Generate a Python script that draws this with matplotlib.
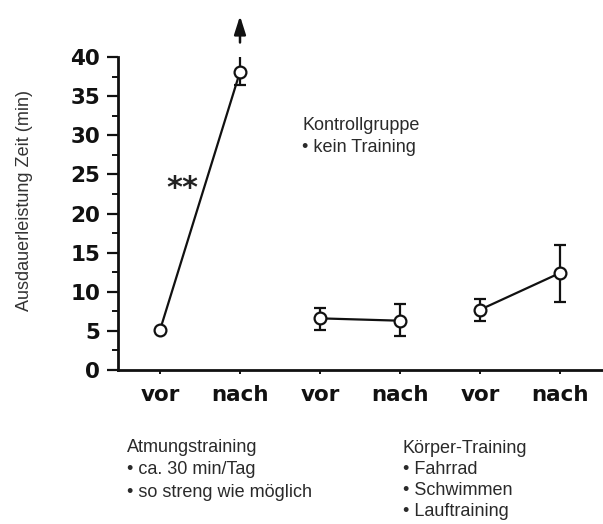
import matplotlib
matplotlib.use("Agg")
import matplotlib.pyplot as plt
from matplotlib.ticker import MultipleLocator, FixedLocator

# ---- data ----
tick_labels = ["vor", "nach", "vor", "nach", "vor", "nach"]
atmung_mean = [5.1, 38.1]
atmung_lo = [5.1, 36.4]
atmung_hi = [5.1, 40.3]
kontroll_mean = [6.6, 6.3]
kontroll_lo = [5.1, 4.3]
kontroll_hi = [7.9, 8.4]
koerper_mean = [7.7, 12.4]
koerper_lo = [6.3, 8.7]
koerper_hi = [9.1, 16.0]
y_ticks = [0, 5, 10, 15, 20, 25, 30, 35, 40]

W, H = 603, 524
fig = plt.figure(figsize=(W / 100, H / 100), dpi=100)
ax = fig.add_axes([118 / W, (H - 370) / H, (W - 118) / W, (370 - 57) / H])

ink = "#111111"
groups = [
    ([0, 1], atmung_mean, atmung_lo, atmung_hi),
    ([2, 3], kontroll_mean, kontroll_lo, kontroll_hi),
    ([4, 5], koerper_mean, koerper_lo, koerper_hi),
]
for i, (xs, m, lo, hi) in enumerate(groups):
    yerr = [[a - b for a, b in zip(m, lo)], [b - a for a, b in zip(m, hi)]]
    ax.errorbar(xs, m, yerr=yerr, fmt="none", ecolor=ink, elinewidth=1.6,
                capsize=4, capthick=1.6, zorder=2)
    ax.plot(xs, m, color=ink, lw=1.6, marker="o", ms=8.5, mfc="white",
            mec=ink, mew=1.6, zorder=3)

# arrow above "nach" of Atmungstraining
ax.annotate("", xy=(1, 45.6), xytext=(1, 41.5), annotation_clip=False,
            arrowprops=dict(arrowstyle="-|>,head_length=1.1,head_width=0.35",
                            color=ink, lw=1.8))
ax.text(0.28, 23.2, "**", ha="center", va="center", fontsize=22,
        fontweight="bold", color="#222222", family="DejaVu Sans")

ax.set_xlim(-0.525, (W - 160) / 80)
ax.set_ylim(0, 40)
ax.spines["top"].set_visible(False)
ax.spines["right"].set_visible(False)
for s in ("left", "bottom"):
    ax.spines[s].set_linewidth(2)
    ax.spines[s].set_color(ink)
ax.spines["bottom"].set_bounds(-0.525, (W - 160) / 80)

ax.yaxis.set_major_locator(FixedLocator(y_ticks))
ax.yaxis.set_minor_locator(MultipleLocator(2.5))
ax.set_yticklabels([str(v) for v in y_ticks])
ax.set_xticks(range(len(tick_labels)))
ax.set_xticklabels(tick_labels)
ax.tick_params(axis="y", which="major", length=8, width=1.6, color=ink,
               pad=5, labelsize=15.5)
ax.tick_params(axis="y", which="minor", length=4, width=1.4, color=ink)
ax.tick_params(axis="x", which="major", length=3, width=1.4, color=ink,
               pad=8, labelsize=15.5)
for lab in ax.get_yticklabels() + ax.get_xticklabels():
    lab.set_fontweight("bold")
    lab.set_family("DejaVu Sans")
    lab.set_color(ink)

txt = dict(family="Liberation Sans", fontsize=13, color="#2a2a2a",
           linespacing=1.42, va="top", ha="left")
fig.text(25 / W, (H - 201) / H, "Ausdauerleistung Zeit (min)", rotation=90,
         ha="center", va="center", family="Liberation Sans", fontsize=13,
         color="#333333")
fig.text(302 / W, (H - 117) / H, "Kontrollgruppe\n\u2022 kein Training", **txt)
fig.text(127 / W, (H - 439) / H,
         "Atmungstraining\n\u2022 ca. 30 min/Tag\n\u2022 so streng wie möglich", **txt)
txt2 = dict(txt, linespacing=1.3)
fig.text(403 / W, (H - 440) / H,
         "Körper-Training\n\u2022 Fahrrad\n\u2022 Schwimmen\n\u2022 Lauftraining", **txt2)

fig.savefig("out.png", dpi=100, facecolor="white")
